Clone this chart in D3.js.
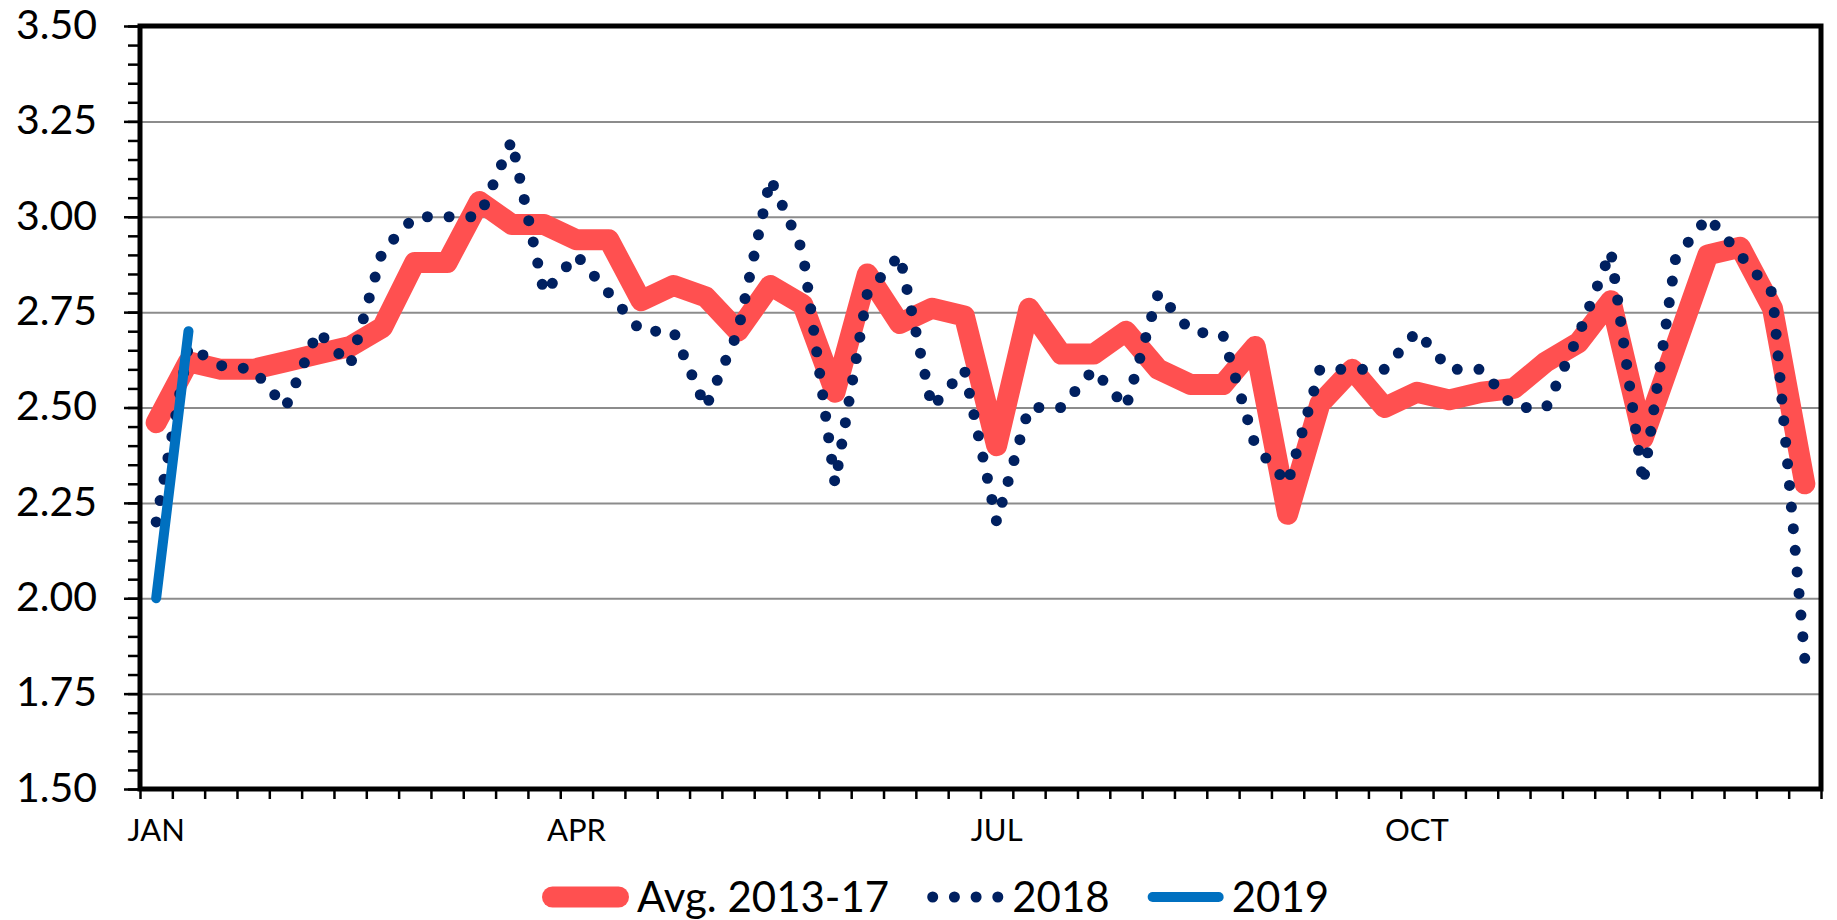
<!DOCTYPE html>
<html>
<head>
<meta charset="utf-8">
<script src="https://cdn.jsdelivr.net/npm/d3@7/dist/d3.min.js"></script>
<style>
  body { margin: 0; background: #fff; }
  svg { display: block; font-family: Lato, 'Open Sans', sans-serif; }
</style>
</head>
<body>
<svg id="chart" width="1837" height="920"></svg>
<script>
// weekly values, 52 weeks
const weeks = [1, 2, 3, 4, 5, 6, 7, 8, 9, 10, 11, 12, 13, 14, 15, 16, 17, 18, 19, 20, 21, 22, 23, 24, 25, 26,
  27, 28, 29, 30, 31, 32, 33, 34, 35, 36, 37, 38, 39, 40, 41, 42, 43, 44, 45, 46, 47, 48, 49, 50, 51, 52];

const avg2013to17 = [2.46, 2.62, 2.60, 2.60, 2.62, 2.64, 2.66, 2.71, 2.88, 2.88, 3.04, 2.98, 2.98,
  2.94, 2.94, 2.78, 2.82, 2.79, 2.70, 2.82, 2.77, 2.54, 2.85, 2.72, 2.76, 2.74,
  2.40, 2.76, 2.64, 2.64, 2.70, 2.60, 2.56, 2.56, 2.66, 2.22, 2.51, 2.60, 2.50,
  2.54, 2.52, 2.54, 2.55, 2.62, 2.67, 2.78, 2.42, 2.66, 2.90, 2.92, 2.76, 2.30];

const values2018 = [2.20, 2.66, 2.61, 2.60, 2.50, 2.70, 2.61, 2.91, 3.00, 3.00, 3.00, 3.20, 2.80,
  2.90, 2.80, 2.70, 2.70, 2.50, 2.70, 3.10, 2.91, 2.30, 2.80, 2.90, 2.50, 2.60,
  2.20, 2.50, 2.50, 2.60, 2.50, 2.80, 2.70, 2.69, 2.40, 2.30, 2.60, 2.60, 2.60,
  2.70, 2.60, 2.60, 2.50, 2.50, 2.69, 2.91, 2.30, 2.89, 3.00, 2.90, 2.80, 1.84];

const values2019 = [2.00, 2.70];

const monthWeeks = [1, 14, 27, 40];
const monthNames = ['JAN', 'APR', 'JUL', 'OCT'];

const yTicks = [1.50, 1.75, 2.00, 2.25, 2.50, 2.75, 3.00, 3.25, 3.50];

const seriesNames = ['Avg. 2013-17', '2018', '2019'];

const svg = d3.select('#chart');
const margin = { top: 26, right: 16, bottom: 131, left: 140 };
const width = 1837 - margin.left - margin.right;
const height = 920 - margin.top - margin.bottom;

const g = svg.append('g')
  .attr('transform', 'translate(' + margin.left + ',' + margin.top + ')');

const x = d3.scaleBand()
  .domain(weeks)
  .range([0, width]);

const xEdge = d3.scaleLinear()
  .domain([0, weeks.length])
  .range([0, width]);

const y = d3.scaleLinear()
  .domain([1.5, 3.5])
  .range([height, 0]);

const cx = w => x(w) + x.bandwidth() / 2;

// gridlines
g.append('g')
  .attr('class', 'grid')
  .call(d3.axisLeft(y).tickValues(yTicks.slice(1, -1)).tickSize(-width).tickFormat(''))
  .call(s => s.select('.domain').remove())
  .selectAll('line')
  .attr('stroke', '#8c8c8c')
  .attr('stroke-width', 2);

// minor y ticks
g.append('g')
  .call(d3.axisLeft(y).tickValues(d3.range(1.5, 3.501, 0.05)).tickSize(12).tickFormat(''))
  .call(s => s.select('.domain').remove())
  .selectAll('line')
  .attr('stroke', '#000')
  .attr('stroke-width', 2.5);

// major y ticks + labels
g.append('g')
  .call(d3.axisLeft(y).tickValues(yTicks).tickSize(16).tickPadding(27).tickFormat(d3.format('.2f')))
  .call(s => s.select('.domain').remove())
  .call(s => s.selectAll('line').attr('stroke', '#000').attr('stroke-width', 2.5))
  .selectAll('text')
  .attr('font-family', 'Lato, sans-serif')
  .attr('font-size', 41)
  .attr('dy', '0.3em')
  .attr('fill', '#000');

// x tick marks at week boundaries
g.append('g')
  .attr('transform', 'translate(0,' + height + ')')
  .call(d3.axisBottom(xEdge).tickValues(d3.range(0, weeks.length + 1)).tickSize(10).tickFormat(''))
  .call(s => s.select('.domain').remove())
  .selectAll('line')
  .attr('stroke', '#000')
  .attr('stroke-width', 2.5);

// month labels
g.append('g')
  .attr('transform', 'translate(0,' + height + ')')
  .call(d3.axisBottom(x).tickValues(monthWeeks).tickSize(0).tickPadding(30)
    .tickFormat(d => monthNames[monthWeeks.indexOf(d)]))
  .call(s => s.select('.domain').remove())
  .selectAll('text')
  .attr('font-family', 'Lato, sans-serif')
  .attr('font-size', 31)
  .attr('fill', '#000');

// plot border
g.append('rect')
  .attr('width', width)
  .attr('height', height)
  .attr('fill', 'none')
  .attr('stroke', '#000')
  .attr('stroke-width', 5);

const line = d3.line()
  .x((d, i) => cx(weeks[i]))
  .y(d => y(d));

const styles = [
  { color: '#FF5050', width: 21, dash: null },
  { color: '#002060', width: 11, dash: '0 21.7' },
  { color: '#0070C0', width: 10, dash: null }
];

[avg2013to17, values2018, values2019].forEach((vals, i) => {
  const p = g.append('path')
    .datum(vals)
    .attr('d', line)
    .attr('fill', 'none')
    .attr('stroke', styles[i].color)
    .attr('stroke-width', styles[i].width)
    .attr('stroke-linecap', 'round')
    .attr('stroke-linejoin', 'round');
  if (styles[i].dash) {
    // fit the dot spacing so a dot lands near both ends of the line
    const len = p.node().getTotalLength();
    const gap = (len - 1) / Math.round(len / 21.7);
    p.attr('stroke-dasharray', '0 ' + gap);
  }
});

// legend
const legend = svg.append('g')
  .attr('transform', 'translate(0,897)');

let cursor = 542;
seriesNames.forEach((name, i) => {
  const st = styles[i];
  const x1 = cursor + st.width / 2;
  const x2 = x1 + 66;
  legend.append('line')
    .attr('x1', x1).attr('x2', x2)
    .attr('stroke', st.color)
    .attr('stroke-width', st.width)
    .attr('stroke-linecap', 'round')
    .attr('stroke-dasharray', st.dash);
  const t = legend.append('text')
    .attr('x', x2 + st.width / 2 + 8)
    .attr('dy', '0.35em')
    .attr('font-size', 42)
    .attr('fill', '#000')
    .text(name);
  cursor = x2 + st.width / 2 + 8 + t.node().getComputedTextLength() + 38;
});
</script>
</body>
</html>
